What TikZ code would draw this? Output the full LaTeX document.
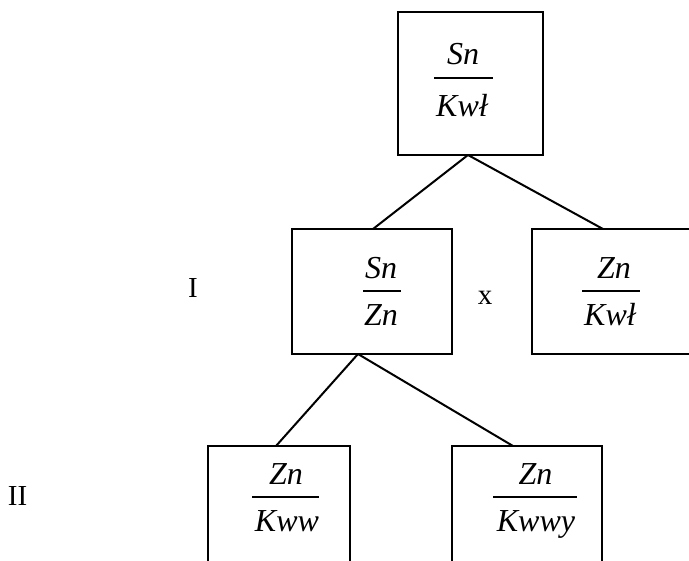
\documentclass[tikz,border=0pt]{standalone}
\usepackage{fontspec}
\setmainfont{Liberation Serif}
\begin{document}
\begin{tikzpicture}[x=1pt,y=-1pt,
  box/.style={draw,line width=2.2pt,inner sep=0pt,outer sep=0pt},
  link/.style={line width=2pt},
  bar/.style={line width=1.6pt},
  txt/.style={inner sep=0pt,anchor=base,font=\fontsize{32}{38}\selectfont\itshape},
  lbl/.style={inner sep=0pt,anchor=base,font=\fontsize{29}{34}\selectfont}]
  \path[use as bounding box] (0,0) rectangle (689,561);
  \clip (0,0) rectangle (689,561);

  % boxes of the tree
  \node[box,minimum width=145pt,minimum height=143pt] (top)  at (470.5,83.5) {};
  \node[box,minimum width=160pt,minimum height=125pt] (midL) at (372,291.5) {};
  \node[box,minimum width=168pt,minimum height=125pt] (midR) at (616,291.5) {};
  \node[box,minimum width=142pt,minimum height=134pt] (botL) at (279,513) {};
  \node[box,minimum width=150pt,minimum height=134pt] (botR) at (527,513) {};

  % branches
  \coordinate (topFoot) at ([xshift=-2.5pt]top.south);
  \coordinate (midFoot) at ([xshift=-14pt]midL.south);
  \draw[link] (topFoot) -- ([xshift=1pt]midL.north);
  \draw[link] (topFoot) -- ([xshift=71pt]midR.north west);
  \draw[link] (midFoot) -- ([xshift=68pt]botL.north west);
  \draw[link] (midFoot) -- ([xshift=61pt]botR.north west);

  % fractions
  \node[txt] (topNum) at (463,65)  {Sn};
  \draw[bar] (434,78) -- (493,78);
  \node[txt] (topDen) at (462,117) {Kwł};

  \node[txt] (mlNum) at (381,279) {Sn};
  \draw[bar] (363,291) -- (401,291);
  \node[txt] (mlDen) at (381,326) {Zn};

  \node[txt] (mrNum) at (614,279) {Zn};
  \draw[bar] (582,291) -- (640,291);
  \node[txt] (mrDen) at (610,326) {Kwł};

  \node[txt] (blNum) at (286,485) {Zn};
  \draw[bar] (252,497) -- (319,497);
  \node[txt] (blDen) at (287,532) {Kww};

  \node[txt] (brNum) at (535.5,485) {Zn};
  \draw[bar] (493,497) -- (577,497);
  \node[txt] (brDen) at (536,532) {Kwwy};

  % level labels and sign
  \node[lbl] (lvlI)  at (193,298)  {I};
  \node[lbl] (lvlII) at (17.5,506) {II};
  \node[lbl] (times) at (485,305)  {x};
\end{tikzpicture}
\end{document}
